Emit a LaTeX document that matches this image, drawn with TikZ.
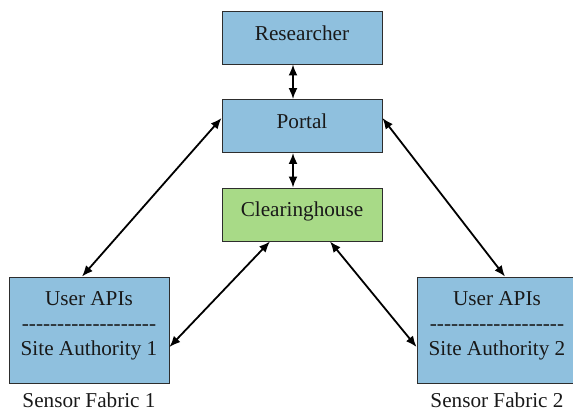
\documentclass[tikz,border=0pt]{standalone}
\usepackage{fontspec}
\setmainfont{Liberation Serif}
\usetikzlibrary{arrows.meta}
\definecolor{boxblue}{RGB}{143,192,222}
\definecolor{boxgreen}{RGB}{168,218,135}
\definecolor{edge}{RGB}{45,45,45}
\newcommand\dsh{\mbox{-}}
\begin{document}
\begin{tikzpicture}[x=1pt,y=-1pt,
  box/.style={draw=edge,line width=0.9pt,fill=boxblue,minimum width=160pt,minimum height=53pt,inner sep=0pt},
  tallbox/.style={box,minimum height=106pt},
  txt/.style={font=\fontsize{21.2}{25}\selectfont,text=black!90,inner sep=0pt,align=center},
  link/.style={line width=1.8pt,{Latex[length=11pt,width=9pt]}-{Latex[length=11pt,width=9pt]}}]
\useasboundingbox (0,0) rectangle (573,413);
\node[box] (res) at (302,37.5) {};
\node[box] (por) at (302,126) {};
\node[box,fill=boxgreen] (clr) at (302,214.5) {};
\node[tallbox] (sa1) at (89,330) {};
\node[tallbox] (sa2) at (497,330) {};
\node[txt] (rest) at ([yshift=4.5pt]res.center) {Researcher};
\node[txt] (port) at ([yshift=4.5pt]por.center) {Portal};
\node[txt] (clrt) at ([yshift=3.5pt]clr.center) {Clearinghouse};
\node[txt] (sa1t) at ([yshift=4pt]sa1.center) {User APIs\\\dsh\dsh\dsh\dsh\dsh\dsh\dsh\dsh\dsh\dsh\dsh\dsh\dsh\dsh\dsh\dsh\dsh\dsh\dsh\\Site Authority 1};
\node[txt] (sa2t) at ([yshift=4pt]sa2.center) {User APIs\\\dsh\dsh\dsh\dsh\dsh\dsh\dsh\dsh\dsh\dsh\dsh\dsh\dsh\dsh\dsh\dsh\dsh\dsh\dsh\\Site Authority 2};
\node[txt,anchor=base] (sf1) at (89,407.5) {Sensor Fabric 1};
\node[txt,anchor=base] (sf2) at (497,407.5) {Sensor Fabric 2};
\draw[link] ([xshift=-9pt]res.south) -- ([xshift=-9pt]por.north);
\draw[link] ([xshift=-9pt]por.south) -- ([xshift=-9pt]clr.north);
\draw[link] ([yshift=8pt]por.west) -- ([xshift=-7pt]sa1.north);
\draw[link] ([yshift=8pt]por.east) -- ([xshift=8pt]sa2.north);
\draw[link] ([xshift=-32pt]clr.south) -- ([yshift=-17pt]sa1.east);
\draw[link] ([xshift=28pt]clr.south) -- ([yshift=-17pt]sa2.west);
\end{tikzpicture}
\end{document}
